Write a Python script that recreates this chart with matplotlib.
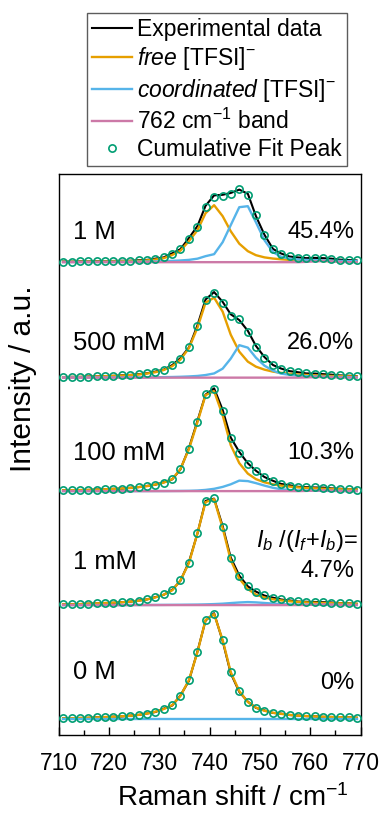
import matplotlib
matplotlib.use("Agg")
import matplotlib.pyplot as plt
from matplotlib.ticker import MultipleLocator
from matplotlib.lines import Line2D

plt.rcParams['font.family'] = ['Liberation Sans', 'DejaVu Sans']
plt.rcParams['mathtext.fontset'] = 'custom'
plt.rcParams['mathtext.rm'] = 'Liberation Sans'
plt.rcParams['mathtext.it'] = 'Liberation Sans:italic'

# Raman shift grid (cm-1) of the fitted spectra
raman_shift = [710.9, 712.6, 714.2, 715.9, 717.6, 719.2, 720.9, 722.6, 724.2, 725.9,
               727.6, 729.2, 730.9, 732.6, 734.2, 735.9, 737.6, 739.2, 740.9, 742.6,
               744.2, 745.9, 747.6, 749.2, 750.9, 752.6, 754.2, 755.9, 757.6, 759.2,
               760.9, 762.6, 764.2, 765.9, 767.6, 769.2]

samples = ['1 M', '500 mM', '100 mM', '1 mM', '0 M']
ratios = ['45.4%', '26.0%', '10.3%', '4.7%', '0%']
offsets = [473, 357.5, 244, 130, 16]

# 1 M
exp_1M = [0.6, 0.5, 0.8, 0.7, 1.0, 1.0, 1.2, 1.4, 1.4, 1.9, 2.3, 3.5, 4.8, 8.9, 13.0, 24.1, 36.2, 56.4,
          66.8, 67.4, 69.2, 72.6, 68.4, 46.2, 27.4, 13.2, 8.7, 5.6, 4.7, 4.0, 4.3, 4.0, 3.5, 2.5, 2.1, 1.7]
free_1M = [0.4, 0.45, 0.5, 0.55, 0.65, 0.75, 0.85, 0.95, 1.1, 1.3, 1.8, 2.6, 4.0, 7.2, 11.5, 21, 32, 49,
           57, 46, 31, 18.5, 11, 7, 4.8, 3.6, 2.9, 2.3, 1.9, 1.6, 1.4, 1.2, 1.1, 1.0, 0.9, 0.8]
coord_1M = [0.15, 0.15, 0.2, 0.2, 0.25, 0.3, 0.3, 0.35, 0.4, 0.45, 0.55, 0.7, 1.0, 1.3, 1.7, 2.3, 3.5, 6,
            8, 20, 37, 55, 56, 40, 22, 10, 5.5, 3.5, 2.6, 2.3, 2.0, 1.7, 1.5, 1.3, 1.1, 1.0]
band_1M = [0, 0, 0, 0, 0, 0, 0, 0, 0, 0, 0, 0, 0, 0, 0, 0, 0, 0,
           0, 0, 0, 0, 0, 0, 0, 0, 0, 0, 0, 0.3, 0.8, 1.2, 0.8, 0.3, 0, 0]

# 500 mM
exp_500mM = [0.5, 0.8, 0.7, 1.1, 1.2, 1.6, 1.8, 2.3, 2.7, 3.5, 4.4, 6.0, 8.0, 12.6, 19.4, 30.2, 52.4, 78.2,
             85.6, 75.8, 63.4, 57.6, 46.8, 31.8, 20.6, 12.6, 9.1, 6.5, 5.4, 4.2, 4.1, 3.5, 3.0, 2.2, 1.9, 1.5]
free_500mM = [0.5, 0.6, 0.7, 0.9, 1.1, 1.4, 1.7, 2.0, 2.5, 3.1, 4.1, 5.4, 7.6, 11.5, 18, 29.5, 50, 75,
              80, 66, 43, 26, 16, 11, 8, 6.0, 4.8, 3.9, 3.2, 2.7, 2.3, 2.0, 1.7, 1.5, 1.3, 1.2]
coord_500mM = [0.1, 0.1, 0.1, 0.1, 0.15, 0.15, 0.2, 0.2, 0.25, 0.3, 0.35, 0.4, 0.5, 0.65, 0.85, 1.2, 1.7, 2.6,
               4.2, 9, 19, 32.5, 30, 20, 12, 7, 4.0, 2.8, 2.0, 1.5, 1.2, 0.9, 0.7, 0.6, 0.5, 0.4]
band_500mM = [0, 0, 0, 0, 0, 0, 0, 0, 0, 0, 0, 0, 0, 0, 0, 0, 0, 0,
              0, 0, 0, 0, 0, 0, 0, 0, 0, 0, 0, 0.2, 0.5, 0.7, 0.5, 0.2, 0, 0]

# 100 mM
exp_100mM = [0.9, 0.8, 1.1, 1.2, 1.6, 1.7, 2.3, 2.5, 3.3, 4.0, 5.2, 6.4, 8.8, 11.8, 21.6, 43, 70.4, 96.5,
             102.8, 81.2, 53.6, 39.2, 27.8, 20.4, 14.1, 10.3, 7.2, 5.8, 4.3, 4.0, 3.6, 3.5, 2.7, 2.4, 1.7, 1.7]
free_100mM = [0.8, 0.9, 1.0, 1.2, 1.5, 1.8, 2.2, 2.6, 3.2, 4.0, 5.0, 6.5, 8.5, 12, 22, 42, 69, 96,
              100, 76, 46, 28, 17.5, 12, 8.8, 6.8, 5.5, 4.5, 3.7, 3.2, 2.8, 2.4, 2.1, 1.9, 1.7, 1.5]
coord_100mM = [0, 0, 0, 0, 0, 0, 0, 0, 0, 0.05, 0.05, 0.1, 0.1, 0.15, 0.2, 0.3, 0.6, 1.2,
               2.3, 4.2, 6.8, 10.5, 10, 8.0, 5.5, 3.3, 1.9, 1.1, 0.7, 0.5, 0.4, 0.3, 0.2, 0.2, 0.1, 0.1]
band_100mM = [0, 0, 0, 0, 0, 0, 0, 0, 0, 0, 0, 0, 0, 0, 0, 0, 0, 0,
              0, 0, 0, 0, 0, 0, 0, 0, 0, 0, 0, 0.2, 0.5, 0.7, 0.5, 0.2, 0, 0]

# 1 mM
exp_1mM = [0.6, 0.9, 1.0, 1.4, 1.6, 2.1, 2.3, 2.9, 3.4, 4.5, 5.7, 7.9, 10.3, 15.4, 24.2, 43, 71.8, 104.2,
           106.5, 79, 47.6, 29.5, 18.7, 13.5, 9.5, 7.4, 5.6, 4.6, 3.5, 3.3, 3.1, 2.9, 2.6, 1.9, 1.7, 1.3]
free_1mM = [0.7, 0.8, 1.0, 1.3, 1.7, 2.0, 2.4, 2.8, 3.4, 4.3, 5.7, 7.6, 10.4, 14.8, 24.5, 42, 72, 103,
            106, 77, 45, 26.5, 16, 10.5, 7.6, 5.8, 4.7, 3.8, 3.1, 2.7, 2.4, 2.1, 1.9, 1.7, 1.5, 1.3]
coord_1mM = [0, 0, 0, 0, 0, 0, 0, 0, 0.1, 0.1, 0.1, 0.15, 0.2, 0.25, 0.3, 0.4, 0.5, 0.7,
             1.0, 1.4, 2.0, 2.6, 3.0, 2.7, 2.1, 1.5, 1.0, 0.7, 0.5, 0.35, 0.25, 0.2, 0.15, 0.1, 0.1, 0.1]
band_1mM = [0, 0, 0, 0, 0, 0, 0, 0, 0, 0, 0, 0, 0, 0, 0, 0, 0, 0,
            0, 0, 0, 0, 0, 0, 0, 0, 0, 0, 0, 0.2, 0.5, 0.7, 0.5, 0.2, 0, 0]

# 0 M (no coordinated anion, no 762 band)
exp_0M = [0.8, 0.7, 1.1, 1.2, 1.7, 1.9, 2.4, 2.6, 3.4, 4.1, 5.6, 7.0, 10.4, 13.6, 23.5, 38.2, 67.8, 98.5,
          105.8, 78, 45.8, 27.2, 17.4, 11.2, 8.6, 6.1, 5.4, 4.0, 3.5, 2.9, 2.7, 2.2, 2.1, 1.7, 1.7, 1.3]
free_0M = [0.7, 0.8, 1.0, 1.3, 1.6, 2.0, 2.3, 2.7, 3.3, 4.2, 5.5, 7.3, 10, 14, 23, 39, 67, 99,
           105, 79, 47, 28, 17, 11.5, 8.3, 6.3, 5.2, 4.2, 3.4, 3.0, 2.6, 2.3, 2.0, 1.8, 1.6, 1.4]
coord_0M = [0, 0, 0, 0, 0, 0, 0, 0, 0, 0, 0, 0, 0, 0, 0, 0, 0, 0,
            0, 0, 0, 0, 0, 0, 0, 0, 0, 0, 0, 0, 0, 0, 0, 0, 0, 0]
band_0M = None

exp_all = [exp_1M, exp_500mM, exp_100mM, exp_1mM, exp_0M]
free_all = [free_1M, free_500mM, free_100mM, free_1mM, free_0M]
coord_all = [coord_1M, coord_500mM, coord_100mM, coord_1mM, coord_0M]
band_all = [band_1M, band_500mM, band_100mM, band_1mM, band_0M]

c_free = '#E69F00'
c_coord = '#56B4E9'
c_band = '#CC79A7'
c_fit = '#009E73'

fig = plt.figure(figsize=(3.8, 8.14), dpi=100)
ax = fig.add_axes([0.154, 0.097, 0.795, 0.689])

for i in range(len(samples)):
    off = offsets[i]
    band = band_all[i] if band_all[i] is not None else [0] * len(raman_shift)
    fit = [f + c + b for f, c, b in zip(free_all[i], coord_all[i], band)]

    ax.plot(raman_shift, [v + off for v in exp_all[i]], color='black', lw=1.5, zorder=2)
    ax.plot(raman_shift, [v + off for v in free_all[i]], color=c_free, lw=1.7, zorder=3)
    ax.plot(raman_shift, [v + off for v in coord_all[i]], color=c_coord, lw=1.7, zorder=3)
    if band_all[i] is not None:
        ax.plot(raman_shift, [v + off for v in band_all[i]], color=c_band, lw=1.7, zorder=3.5)
    ax.plot(raman_shift, [v + off for v in fit], 'o', mfc='none', mec=c_fit, ms=5.2, mew=1.2, zorder=5)

label_y = [503, 391.7, 281.7, 173.3, 63.3]
ratio_y = [503.3, 392.3, 282.3, 164.3, 51.7]
for i in range(len(samples)):
    ax.text(712.9, label_y[i], samples[i], fontsize=18.4, ha='left', va='center')
    ax.text(768.7, ratio_y[i], ratios[i], fontsize=17, ha='right', va='center')
ax.text(769.4, 194, r'$I_b$ /($I_f$+$I_b$)=', fontsize=17, ha='right', va='center')

ax.set_xlim(710, 770)
ax.set_ylim(0, 561)
ax.set_yticks([])
ax.xaxis.set_major_locator(MultipleLocator(10))
ax.xaxis.set_minor_locator(MultipleLocator(5))
ax.tick_params(axis='x', which='major', direction='in', length=6, width=1, labelsize=16.5, pad=12)
ax.tick_params(axis='x', which='minor', direction='in', length=3.5, width=1)
for sp in ax.spines.values():
    sp.set_linewidth(1.0)

ax.set_xlabel(r'Raman shift / cm$^{\mathrm{-1}}$', fontsize=20, va='baseline')
ax.xaxis.set_label_coords(0.576, -0.127)
ax.set_ylabel('Intensity / a.u.', fontsize=21.5, va='center')
ax.yaxis.set_label_coords(-0.119, 0.635)

handles = [
    Line2D([], [], color='black', lw=1.5),
    Line2D([], [], color=c_free, lw=1.7),
    Line2D([], [], color=c_coord, lw=1.7),
    Line2D([], [], color=c_band, lw=1.7),
    Line2D([], [], ls='none', marker='o', mfc='none', mec=c_fit, ms=5.2, mew=1.2),
]
labels = ['Experimental data', r'$\mathit{free}$ [TFSI]$^{-}$', r'$\mathit{coordinated}$ [TFSI]$^{-}$',
          r'762 cm$^{\mathrm{-1}}$ band', 'Cumulative Fit Peak']
leg = ax.legend(handles, labels, loc='upper left', bbox_to_anchor=(87 / 380, 1 - 13 / 814),
                bbox_transform=fig.transFigure, fontsize=16.5, frameon=True, fancybox=False,
                edgecolor='#333333', handlelength=1.75, handletextpad=0.25, borderpad=0.2,
                labelspacing=0.2, borderaxespad=0, numpoints=1)
leg.get_frame().set_linewidth(1.0)

fig.savefig('out.png', dpi=100)
